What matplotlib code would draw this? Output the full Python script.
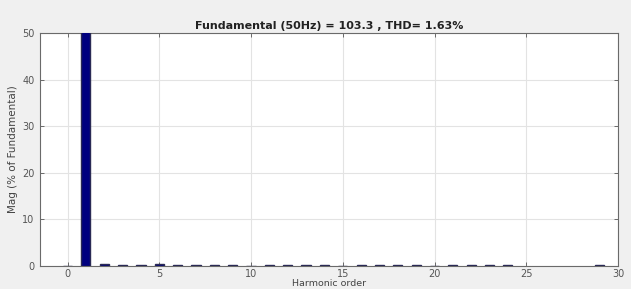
import matplotlib
matplotlib.use("Agg")
import matplotlib.pyplot as plt
import numpy as np

harmonics = list(range(0, 30))
magnitudes = [0.05, 100.0, 0.4, 0.2, 0.2, 0.4, 0.3, 0.3, 0.2, 0.2,
              0.1, 0.3, 0.2, 0.2, 0.2, 0.1, 0.2, 0.2, 0.2, 0.2,
              0.05, 0.2, 0.2, 0.2, 0.2, 0.0, 0.0, 0.0, 0.0, 0.2]
title = "Fundamental (50Hz) = 103.3 , THD= 1.63%"
xticks = [0, 5, 10, 15, 20, 25, 30]
yticks = [0, 10, 20, 30, 40, 50]

fig = plt.figure(figsize=(6.31, 2.89), dpi=100, facecolor="#f0f0f0")
ax = fig.add_axes([40/631, 1-266/289, (618-40)/631, (266-33)/289])
ax.set_facecolor("white")
edges = ["#2a2a55" if m > 0 else "none" for m in magnitudes]
ax.bar(harmonics, magnitudes, width=0.5, color="#00007f", edgecolor=edges, linewidth=1.0, zorder=3)
ax.set_xlim(-1.5, 30)
ax.set_ylim(0, 50)
ax.set_xticks(xticks)
ax.set_yticks(yticks)
ax.grid(True, color="#e3e3e3", linewidth=0.8, zorder=0)
ax.tick_params(direction="in", top=True, right=True, labelsize=7, colors="#555555",
               length=3, width=0.6, pad=4)
ax.tick_params(axis="x", pad=2)
for s in ax.spines.values():
    s.set_color("#6a6a6a")
    s.set_linewidth(0.8)
ax.set_title(title, fontsize=8, fontweight="bold", color="#222222", pad=3)
ax.set_xlabel("Harmonic order", fontsize=6.8, color="#444444", labelpad=0)
ax.set_ylabel("Mag (% of Fundamental)", fontsize=7.5, color="#444444", labelpad=3)
fig.savefig("out.png", dpi=100, facecolor=fig.get_facecolor())
